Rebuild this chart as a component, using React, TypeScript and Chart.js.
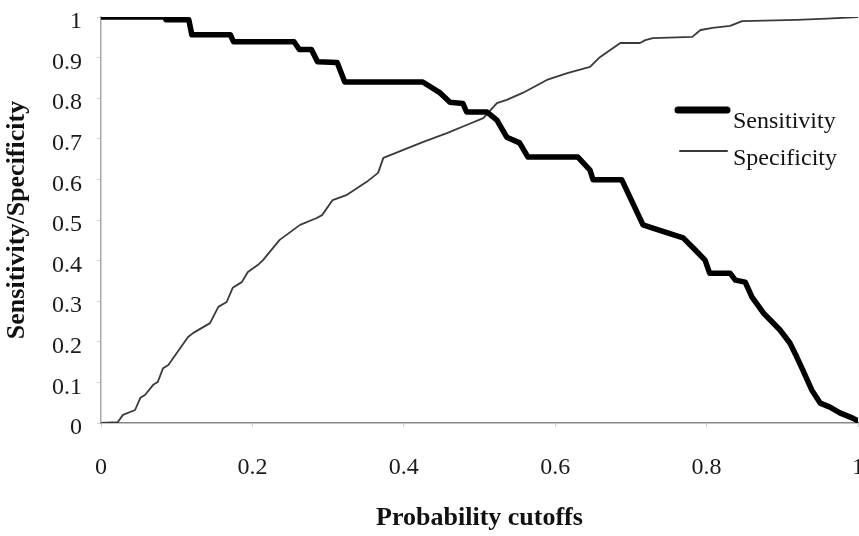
import React, { useEffect, useRef } from "react";
import { Chart, registerables } from "chart.js";

Chart.register(...registerables);

// Sensitivity curve (probability cutoff, value)
const sensX = [0, 0.084, 0.086, 0.116, 0.12, 0.171, 0.175, 0.255, 0.262, 0.278, 0.286, 0.312, 0.322, 0.425, 0.448, 0.461, 0.478, 0.483, 0.51, 0.523, 0.536, 0.553, 0.564, 0.63, 0.646, 0.65, 0.688, 0.716, 0.729, 0.769, 0.785, 0.798, 0.804, 0.831, 0.838, 0.851, 0.86, 0.875, 0.897, 0.91, 0.919, 0.927, 0.939, 0.95, 0.963, 0.976, 0.993, 1.0];
const sensY = [1.0, 1.0, 0.993, 0.993, 0.956, 0.956, 0.939, 0.939, 0.92, 0.92, 0.89, 0.888, 0.84, 0.84, 0.813, 0.79, 0.787, 0.766, 0.766, 0.746, 0.704, 0.69, 0.655, 0.655, 0.623, 0.599, 0.599, 0.488, 0.48, 0.456, 0.426, 0.401, 0.369, 0.369, 0.352, 0.347, 0.31, 0.271, 0.229, 0.197, 0.163, 0.131, 0.081, 0.049, 0.039, 0.025, 0.012, 0.005];

// Specificity curve (probability cutoff, value)
const specX = [0, 0.022, 0.029, 0.045, 0.052, 0.058, 0.069, 0.075, 0.082, 0.089, 0.098, 0.115, 0.122, 0.144, 0.155, 0.166, 0.174, 0.186, 0.194, 0.207, 0.214, 0.236, 0.263, 0.285, 0.292, 0.306, 0.325, 0.351, 0.366, 0.373, 0.392, 0.425, 0.457, 0.483, 0.505, 0.523, 0.536, 0.557, 0.589, 0.616, 0.646, 0.659, 0.686, 0.712, 0.719, 0.729, 0.781, 0.792, 0.808, 0.831, 0.847, 0.919, 0.959, 1.0];
const specY = [0, 0.002, 0.02, 0.032, 0.062, 0.069, 0.094, 0.101, 0.135, 0.143, 0.167, 0.212, 0.222, 0.246, 0.286, 0.298, 0.333, 0.347, 0.372, 0.389, 0.401, 0.451, 0.488, 0.505, 0.512, 0.549, 0.562, 0.594, 0.616, 0.653, 0.667, 0.692, 0.714, 0.734, 0.751, 0.788, 0.796, 0.813, 0.845, 0.862, 0.877, 0.901, 0.936, 0.936, 0.943, 0.948, 0.951, 0.968, 0.973, 0.978, 0.99, 0.993, 0.996, 1.0];

const seriesLabels = ["Sensitivity", "Specificity"];
const xTitle = "Probability cutoffs";
const yTitle = "Sensitivity/Specificity";
const xMin = 0, xMax = 1, xStep = 0.2;
const yMin = 0, yMax = 1, yStep = 0.1;

const FONT = "'Liberation Serif', 'Times New Roman', serif";
const fmt = (v: any) => String(Math.round(Number(v) * 10) / 10);

const legendPlugin = {
  id: "insideLegend",
  afterDraw(chart: any) {
    const { ctx } = chart;
    const rows = [
      { x0: 678, x1: 727, lineY: 110, baseY: 128 },
      { x0: 680, x1: 727, lineY: 151, baseY: 165 },
    ];
    ctx.save();
    chart.data.datasets.forEach((ds: any, i: number) => {
      const r = rows[i];
      ctx.beginPath();
      ctx.strokeStyle = ds.borderColor;
      ctx.lineWidth = i === 0 ? 7 : 2;
      ctx.lineCap = "round";
      ctx.moveTo(r.x0, r.lineY);
      ctx.lineTo(r.x1, r.lineY);
      ctx.stroke();
      ctx.fillStyle = "#111";
      ctx.font = `24px ${FONT}`;
      ctx.textAlign = "left";
      ctx.textBaseline = "alphabetic";
      ctx.fillText(ds.label, 733, r.baseY);
    });
    ctx.restore();
  },
};

export default function App() {
  const ref = useRef<HTMLCanvasElement | null>(null);

  useEffect(() => {
    if (!ref.current) return;
    const sens = sensX.map((x, i) => ({ x, y: sensY[i] }));
    const spec = specX.map((x, i) => ({ x, y: specY[i] }));
    const chart = new Chart(ref.current, {
      type: "line",
      data: {
        datasets: [
          {
            label: seriesLabels[0],
            data: sens,
            borderColor: "#000",
            borderWidth: 5.5,
            borderJoinStyle: "round",
            borderCapStyle: "round",
            pointRadius: 0,
            tension: 0,
            fill: false,
          },
          {
            label: seriesLabels[1],
            data: spec,
            borderColor: "#3a3a3a",
            borderWidth: 1.8,
            borderJoinStyle: "round",
            pointRadius: 0,
            tension: 0,
            fill: false,
          },
        ],
      },
      options: {
        animation: false,
        responsive: true,
        maintainAspectRatio: false,
        layout: { padding: { top: 17, right: 1, bottom: 0, left: 0 } },
        plugins: { legend: { display: false }, tooltip: { enabled: false } },
        scales: {
          x: {
            type: "linear",
            min: xMin,
            max: xMax,
            border: { display: true, color: "#888", width: 1.5 },
            grid: { drawOnChartArea: false, drawTicks: true, tickLength: 4, color: "#d0d0d0" },
            ticks: {
              stepSize: xStep,
              padding: 26,
              color: "#1a1a1a",
              font: { family: FONT, size: 24 },
              maxRotation: 0,
              callback: fmt,
            },
            title: {
              display: true,
              text: xTitle,
              color: "#111",
              font: { family: FONT, size: 26, weight: "bold" },
              padding: { top: 0, bottom: 2 },
            },
            afterFit: (s: any) => {
              s.height = 113;
              s.paddingLeft = 0;
              s.paddingRight = 0;
            },
          },
          y: {
            type: "linear",
            min: yMin,
            max: yMax,
            border: { display: true, color: "#a8a8a8", width: 1.5 },
            grid: { drawOnChartArea: false, drawTicks: true, tickLength: 4, color: "#d0d0d0" },
            ticks: {
              stepSize: yStep,
              padding: 15,
              labelOffset: 5,
              color: "#1a1a1a",
              font: { family: FONT, size: 24 },
              callback: fmt,
            },
            title: {
              display: true,
              text: yTitle,
              color: "#111",
              font: { family: FONT, size: 26, weight: "bold" },
              padding: { top: 2, bottom: 0 },
            },
            afterFit: (s: any) => {
              s.width = 101;
              s.paddingTop = 0;
              s.paddingBottom = 0;
            },
          },
        },
      },
      plugins: [legendPlugin],
    });
    return () => chart.destroy();
  }, []);

  return (
    <div style={{ position: "fixed", left: 0, top: 0, width: 859, height: 536, overflow: "hidden", background: "#fff" }}>
      <canvas ref={ref} />
    </div>
  );
}
